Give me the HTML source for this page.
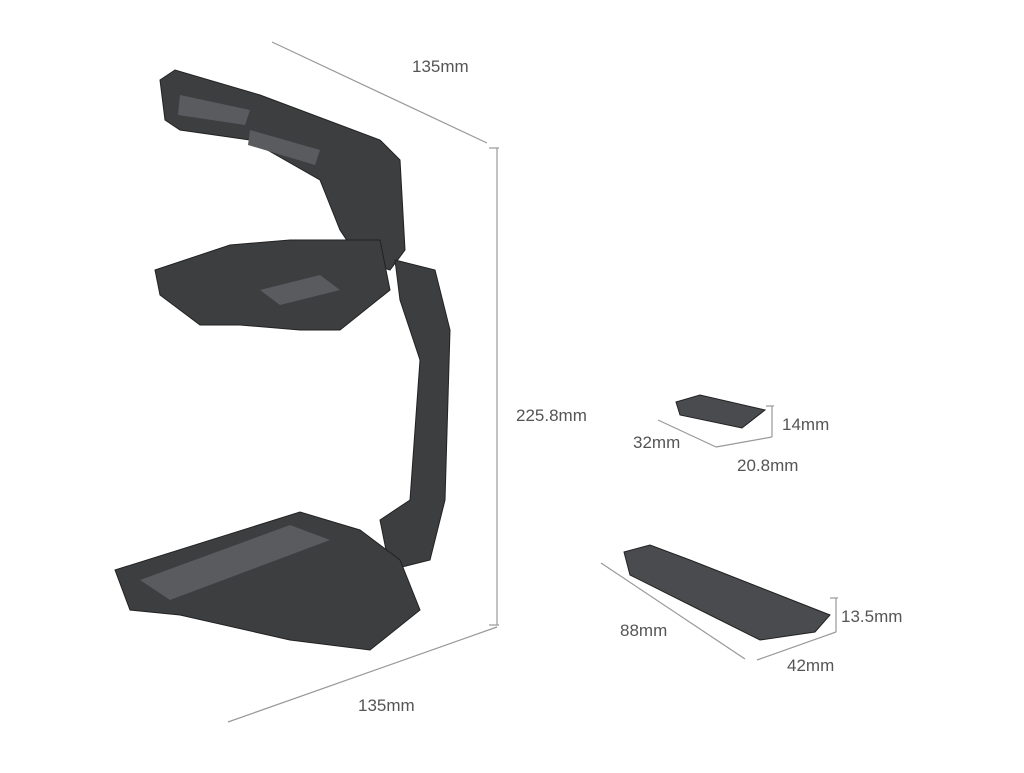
<!DOCTYPE html>
<html><head><style>
body{margin:0;background:#fff;width:1024px;height:768px;overflow:hidden}
svg text{font-family:"Liberation Sans",sans-serif;fill:#555;font-size:17px}
</style></head><body>
<svg width="1024" height="768" viewBox="0 0 1024 768">
<g stroke="#999" stroke-width="1.2" fill="none">
<line x1="272" y1="42" x2="487" y2="143"/>
<line x1="497" y1="148" x2="497" y2="625"/>
<line x1="489" y1="148" x2="499" y2="148"/>
<line x1="489" y1="625" x2="499" y2="625"/>
<line x1="228" y1="722" x2="497" y2="627"/>
<line x1="658" y1="420" x2="716" y2="447"/>
<line x1="716" y1="447" x2="772" y2="437"/>
<line x1="772" y1="406" x2="772" y2="437"/>
<line x1="766" y1="406" x2="774" y2="406"/>
<line x1="601" y1="563" x2="745" y2="659"/>
<line x1="757" y1="660" x2="836" y2="632"/>
<line x1="836" y1="598" x2="836" y2="632"/>
<line x1="830" y1="598" x2="838" y2="598"/>
</g>
<text x="412" y="72">135mm</text>
<text x="516" y="421">225.8mm</text>
<text x="358" y="711">135mm</text>
<text x="782" y="430">14mm</text>
<text x="633" y="448">32mm</text>
<text x="737" y="471">20.8mm</text>
<text x="841" y="622">13.5mm</text>
<text x="620" y="636">88mm</text>
<text x="787" y="671">42mm</text>
<g fill="#3d3e40" stroke="#222" stroke-width="1">
<path d="M160 80 L175 70 L260 95 L380 140 L400 160 L405 250 L390 270 L360 260 L340 230 L320 180 L250 140 L180 130 L165 120 Z"/>
<path d="M155 270 L230 245 L290 240 L380 240 L390 290 L340 330 L300 330 L240 325 L200 325 L160 295 Z"/>
<path d="M395 260 L435 270 L450 330 L445 500 L430 560 L390 570 L380 520 L410 500 L420 360 L400 300 Z"/>
<path d="M115 570 L300 512 L360 530 L400 560 L420 610 L370 650 L290 640 L180 615 L130 610 Z"/>
</g>
<g fill="#5a5b5e">
<path d="M180 95 L250 110 L245 125 L178 115 Z"/>
<path d="M250 130 L320 150 L315 165 L248 145 Z"/>
<path d="M140 580 L290 525 L330 540 L170 600 Z"/>
<path d="M260 290 L320 275 L340 290 L280 305 Z"/>
</g>
<g fill="#4a4b4e" stroke="#222">
<path d="M676 402 L700 395 L765 410 L742 428 L680 415 Z"/>
<path d="M624 552 L650 545 L690 560 L830 615 L815 632 L760 640 L700 610 L630 575 Z"/>
</g>
</svg>
</body></html>
